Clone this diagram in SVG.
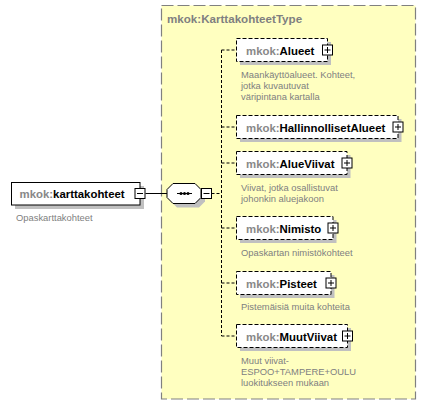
<svg xmlns="http://www.w3.org/2000/svg" width="426" height="405" viewBox="0 0 426 405">
<style>
text{font-family:"Liberation Sans",Arial,sans-serif}
.ttl{font-size:11.6px;font-weight:bold;fill:#808080}
.nm{font-size:11.4px;font-weight:bold}
.pf{fill:#888888}
.ln{fill:#000}
.ds{font-size:9.4px;fill:#808080}
.sh{fill:#C0C0C0}
.box{fill:#fff;stroke:#000;stroke-width:1}
.opt{stroke-dasharray:4,2}
.btn{fill:#fff;stroke:#000;stroke-width:1}
.sym{stroke:#000;stroke-width:1;fill:none}
.con{stroke:#000;stroke-width:1;fill:none}
.dash{stroke-dasharray:3,2}
</style>
<rect width="426" height="405" fill="#fff"/>
<g id="type-KarttakohteetType">
<rect x="161.5" y="5.5" width="254" height="393.5" fill="#FFFFC0" stroke="#808080" stroke-width="1.2" stroke-dasharray="12,4"/>
<text class="ttl" x="167" y="23">mkok:KarttakohteetType</text>
</g>
<g id="connectors">
<path class="con" d="M145.5 193.5 H167"/>
<path class="con dash" d="M211.5 193.5 H221.5 M221.5 50 V336 M221.5 50 H236.5 M221.5 127 H236.5 M221.5 163 H236.5 M221.5 228 H236.5 M221.5 283 H236.5 M221.5 336 H236.5"/>
</g>
<g id="node-karttakohteet">
<rect class="sh" x="15" y="186" width="129" height="23"/>
<rect class="box" x="11.5" y="182.5" width="128.5" height="22.5"/>
<text class="nm" x="19.5" y="198"><tspan class="pf">mkok:</tspan><tspan class="ln">karttakohteet</tspan></text>
<rect class="btn" x="135" y="188.5" width="10" height="10"/>
<path class="sym" d="M137 193.5 H143"/>
<text class="ds" x="16" y="220.5">Opaskarttakohteet</text>
</g>
<g id="node-sequence">
<polygon class="sh" points="177,187.5 199,187.5 205,193.5 205,201.5 199,207.5 177,207.5 171,201.5 171,193.5"/>
<polygon points="173,183.5 195,183.5 201,189.5 201,197.5 195,203.5 173,203.5 167,197.5 167,189.5" fill="#fff" stroke="#000"/>
<path class="sym" d="M177 193.5 H192"/>
<circle cx="181" cy="193.5" r="1.5"/>
<circle cx="184.5" cy="193.5" r="1.5"/>
<circle cx="188" cy="193.5" r="1.5"/>
<rect class="btn" x="201.5" y="188.5" width="10" height="10"/>
<path class="sym" d="M203.5 193.5 H209.5"/>
</g>
<g id="node-Alueet">
<rect class="sh" x="240" y="42" width="91" height="23"/>
<rect class="box opt" x="236.5" y="38.5" width="91" height="23"/>
<text class="nm" x="246" y="54.5"><tspan class="pf">mkok:</tspan><tspan class="ln">Alueet</tspan></text>
<rect class="btn" x="322.5" y="45" width="10" height="10"/>
<path class="sym" d="M324.5 50 H330.5 M327.5 47 V53"/>
<text class="ds"><tspan x="241" y="78">Maankäyttöalueet. Kohteet,</tspan><tspan x="241" y="89">jotka kuvautuvat</tspan><tspan x="241" y="99.5">väripintana kartalla</tspan></text>
</g>
<g id="node-HallinnollisetAlueet">
<rect class="sh" x="240" y="119" width="161.5" height="23"/>
<rect class="box opt" x="236.5" y="115.5" width="161.5" height="23"/>
<text class="nm" x="246" y="131.5"><tspan class="pf">mkok:</tspan><tspan class="ln">HallinnollisetAlueet</tspan></text>
<rect class="btn" x="393" y="122" width="10" height="10"/>
<path class="sym" d="M395 127 H401 M398 124 V130"/>
</g>
<g id="node-AlueViivat">
<rect class="sh" x="240" y="155" width="110.5" height="23"/>
<rect class="box opt" x="236.5" y="151.5" width="110.5" height="23"/>
<text class="nm" x="246" y="167.5"><tspan class="pf">mkok:</tspan><tspan class="ln">AlueViivat</tspan></text>
<rect class="btn" x="342" y="158" width="10" height="10"/>
<path class="sym" d="M344 163 H350 M347 160 V166"/>
<text class="ds"><tspan x="241" y="190.5">Viivat, jotka osallistuvat</tspan><tspan x="241" y="201.5">johonkin aluejakoon</tspan></text>
</g>
<g id="node-Nimisto">
<rect class="sh" x="240" y="220" width="96.5" height="23"/>
<rect class="box opt" x="236.5" y="216.5" width="96.5" height="23"/>
<text class="nm" x="246" y="232.5"><tspan class="pf">mkok:</tspan><tspan class="ln">Nimisto</tspan></text>
<rect class="btn" x="328" y="223" width="10" height="10"/>
<path class="sym" d="M330 228 H336 M333 225 V231"/>
<text class="ds" x="241" y="255.5">Opaskartan nimistökohteet</text>
</g>
<g id="node-Pisteet">
<rect class="sh" x="240" y="275" width="94.5" height="23"/>
<rect class="box opt" x="236.5" y="271.5" width="94.5" height="23"/>
<text class="nm" x="246" y="287.5"><tspan class="pf">mkok:</tspan><tspan class="ln">Pisteet</tspan></text>
<rect class="btn" x="326" y="278" width="10" height="10"/>
<path class="sym" d="M328 283 H334 M331 280 V286"/>
<text class="ds" x="241" y="309.5">Pistemäisiä muita kohteita</text>
</g>
<g id="node-MuutViivat">
<rect class="sh" x="240" y="328" width="111" height="23"/>
<rect class="box opt" x="236.5" y="324.5" width="111" height="23"/>
<text class="nm" x="246" y="340.5"><tspan class="pf">mkok:</tspan><tspan class="ln">MuutViivat</tspan></text>
<rect class="btn" x="342.5" y="331" width="10" height="10"/>
<path class="sym" d="M344.5 336 H350.5 M347.5 333 V339"/>
<text class="ds"><tspan x="241" y="364">Muut viivat-</tspan><tspan x="241" y="375">ESPOO+TAMPERE+OULU</tspan><tspan x="241" y="385.5">luokitukseen mukaan</tspan></text>
</g>
</svg>
